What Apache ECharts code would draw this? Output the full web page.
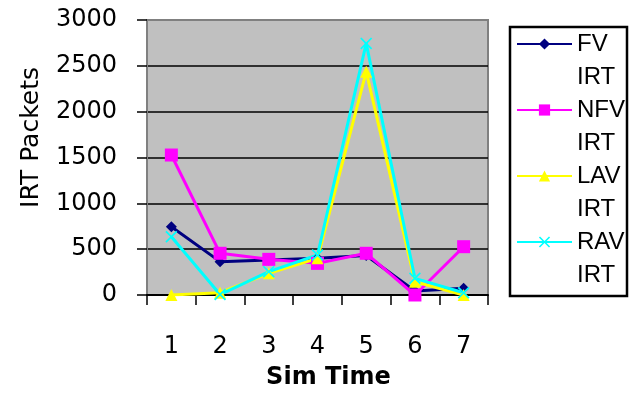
<!DOCTYPE html>
<html>
<head>
<meta charset="utf-8">
<script src="https://cdn.jsdelivr.net/npm/echarts@6/dist/echarts.min.js"></script>
<style>html,body{margin:0;padding:0;background:#fff;}#c{width:639px;height:394px;}</style>
</head>
<body>
<div id="c"></div>
<script>
var categories = ['1', '2', '3', '4', '5', '6', '7'];
var fvIRT = [745, 364, 382, 400, 430, 44, 73];
var nfvIRT = [1527, 455, 389, 345, 455, 0, 527];
var lavIRT = [0, 25, 236, 400, 2436, 145, 0];
var ravIRT = [636, 5, 255, 436, 2745, 182, 25];
var yTicks = { min: 0, max: 3000, interval: 500 };
var seriesNames = ['FV IRT', 'NFV IRT', 'LAV IRT', 'RAV IRT'];

var xPath = 'path://M0,2 L2,0 L10,8 L18,0 L20,2 L12,10 L20,18 L18,20 L10,12 L2,20 L0,18 L8,10 Z';

var chart = echarts.init(document.getElementById('c'), null, { renderer: 'canvas' });
function mk(name, data, color, symbol, size) {
  return {
    name: name, type: 'line', data: data,
    symbol: symbol, symbolSize: size,
    lineStyle: { color: color, width: 3 },
    itemStyle: { color: color },
    emphasis: { disabled: true }
  };
}
chart.setOption({
  animation: false,
  grid: {
    left: 147, right: 151, top: 20, bottom: 99,
    containLabel: false, outerBoundsMode: 'none',
    show: true, backgroundColor: '#c0c0c0', borderColor: '#808080', borderWidth: 2
  },
  legend: {
    orient: 'vertical', left: 516, top: -5.5, padding: 0,
    itemWidth: 55, itemHeight: 14, itemGap: -33,
    formatter: function (n) { return ' \n' + n.replace(' ', '\n'); },
    textStyle: { fontFamily: 'Liberation Sans', fontSize: 24, color: '#000', lineHeight: 33 }
  },
  graphic: [{
    type: 'rect', shape: { x: 510, y: 27, width: 117, height: 269 },
    style: { fill: 'none', stroke: '#000', lineWidth: 2.5 }, z: 100
  }],
  xAxis: {
    type: 'category', data: categories, boundaryGap: true,
    name: 'Sim Time', nameLocation: 'middle', nameGap: 71,
    nameTextStyle: { fontFamily: 'DejaVu Sans', fontSize: 24, fontWeight: 'bold', color: '#000', padding: [0, 0, 0, 22] },
    axisLine: { lineStyle: { color: '#000', width: 2 } },
    axisTick: { show: true, length: 10, lineStyle: { color: '#000', width: 1.5 } },
    axisLabel: { fontFamily: 'DejaVu Sans', fontSize: 24, color: '#000', margin: 40 },
    splitLine: { show: false }
  },
  yAxis: {
    type: 'value', min: yTicks.min, max: yTicks.max, interval: yTicks.interval,
    name: 'IRT Packets', nameLocation: 'middle', nameGap: 103,
    nameTextStyle: { fontFamily: 'DejaVu Sans', fontSize: 25, color: '#000', padding: [0, 0, 0, 40] },
    axisLine: { show: true, lineStyle: { color: '#808080', width: 2 } },
    axisTick: { show: true, length: 10, lineStyle: { color: '#000', width: 1.5 } },
    axisLabel: { fontFamily: 'DejaVu Sans', fontSize: 24, color: '#000', margin: 30, formatter: function (v) { return String(v); } },
    splitLine: { show: true, showMaxLine: false, lineStyle: { color: '#000', width: 1.5 } }
  },
  series: [
    mk(seriesNames[0], fvIRT, '#000080', 'diamond', 11),
    mk(seriesNames[1], nfvIRT, '#ff00ff', 'rect', 13),
    mk(seriesNames[2], lavIRT, '#ffff00', 'triangle', 12),
    mk(seriesNames[3], ravIRT, '#00ffff', xPath, 12)
  ]
});
</script>
</body>
</html>
